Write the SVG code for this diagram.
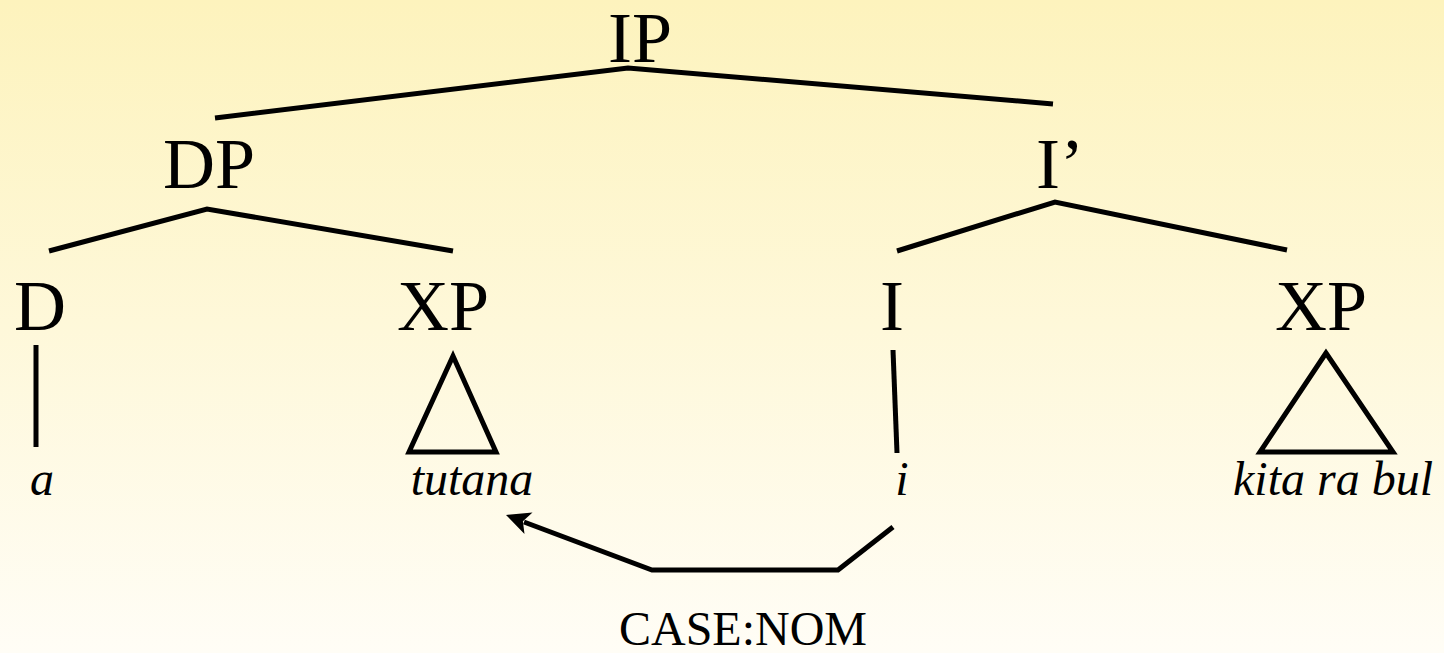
<svg xmlns="http://www.w3.org/2000/svg" width="1444" height="653" viewBox="0 0 1444 653">
<defs>
<linearGradient id="bg" x1="0" y1="0" x2="0" y2="1">
<stop offset="0" stop-color="#FDF3BD"/>
<stop offset="1" stop-color="#FFFDF6"/>
</linearGradient>
<style>
.lbl{font-family:"Liberation Serif","Times New Roman",serif;font-size:72px;fill:#000;text-anchor:middle}
.word{font-family:"Liberation Serif","Times New Roman",serif;font-size:48px;font-style:italic;fill:#000;text-anchor:middle}
.case{font-family:"Liberation Serif","Times New Roman",serif;font-size:48px;fill:#000;text-anchor:middle}
.ln{stroke:#000;stroke-width:5;fill:none}
.head{fill:#000;stroke:none}
</style>
</defs>
<rect x="0" y="0" width="1444" height="653" fill="url(#bg)"/>
<g id="connectors">
<polyline class="ln" points="215,118 628,68 1053,104"/>
<polyline class="ln" points="49,251 207,209 453,251"/>
<polyline class="ln" points="897,251 1055,202 1287,250"/>
<line class="ln" x1="36" y1="345" x2="36" y2="447"/>
<line class="ln" x1="893" y1="350" x2="897" y2="453"/>
<polyline class="ln" points="893,527 838,570 652,570 524,522" stroke-width="4.5"/>
<polygon class="head" points="506,515 532.5,512.5 522.9,521.3 524.5,534"/>
</g>
<g id="IP"><text class="lbl" x="640" y="62">IP</text></g>
<g id="DP"><text class="lbl" x="209" y="188">DP</text></g>
<g id="Ibar"><text class="lbl" x="1060" y="188">I’</text></g>
<g id="D"><text class="lbl" x="40" y="330">D</text></g>
<g id="XP1"><text class="lbl" x="443" y="330">XP</text></g>
<g id="I"><text class="lbl" x="892" y="330">I</text></g>
<g id="XP2"><text class="lbl" x="1321" y="330">XP</text></g>
<g id="tri1"><polygon class="ln" points="453,356 409,452 496,452"/></g>
<g id="tri2"><polygon class="ln" points="1326,353 1260,452 1393,452"/></g>
<g id="w-a"><text class="word" x="42" y="495">a</text></g>
<g id="w-tutana"><text class="word" x="472" y="495">tutana</text></g>
<g id="w-i"><text class="word" x="902" y="495">i</text></g>
<g id="w-kita"><text class="word" x="1333" y="495">kita ra bul</text></g>
<g id="case"><text class="case" x="743" y="645">CASE:NOM</text></g>
</svg>
